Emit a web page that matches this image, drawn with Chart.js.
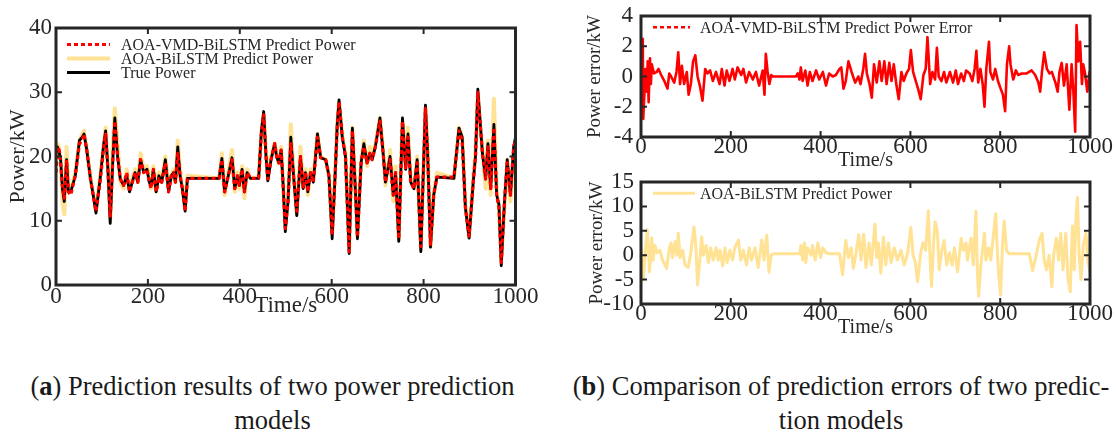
<!DOCTYPE html>
<html>
<head>
<meta charset="utf-8">
<script src="https://cdn.jsdelivr.net/npm/chart.js@4.4.1/dist/chart.umd.min.js"></script>
<style>
  body { margin: 0; background: #fff; width: 1116px; height: 434px; position: relative; overflow: hidden; }
  canvas { position: absolute; }
  .cap { position: absolute; font-family: "Liberation Serif", serif; font-size: 26.5px; line-height: 34px; color: #1a1a1a; text-align: center; white-space: nowrap; }
</style>
</head>
<body>
<canvas id="powerChart" width="560" height="320" style="left:0;top:0"></canvas>
<canvas id="errVmdChart" width="546" height="173" style="left:570px;top:0"></canvas>
<canvas id="errBilChart" width="546" height="167" style="left:570px;top:173px"></canvas>
<div class="cap" style="left:0;top:369px;width:545px">(<b>a</b>) Prediction results of two power prediction<br>models</div>
<div class="cap" style="left:568px;top:369px;width:546px">(<b>b</b>) Comparison of prediction errors of two predic-<br>tion models</div>
<script>
// time axis (s) for panel (a)
const timePower = [
	0, 3, 6, 10, 14, 18, 23, 27, 32, 42,
	51, 57, 61, 67, 75, 81, 87, 96, 104, 108,
	113, 118, 124, 128, 134, 140, 147, 154, 160, 166,
	172, 178, 184, 191, 198, 203, 207, 212, 218, 224,
	230, 238, 245, 251, 256, 260, 265, 270, 275, 281,
	286, 355, 361, 367, 375, 383, 389, 395, 399, 405,
	410, 416, 423, 441, 447, 452, 457, 461, 468, 476,
	480, 485, 490, 494, 499, 505, 511, 517, 524, 532,
	538, 543, 548, 554, 560, 569, 576, 587, 594, 601,
	608, 612, 616, 623, 630, 638, 645, 652, 656, 664,
	670, 677, 683, 688, 695, 705, 712, 717, 727, 734,
	739, 746, 754, 761, 766, 772, 779, 786, 794, 804,
	809, 815, 822, 829, 866, 877, 884, 891, 899, 908,
	913, 918, 928, 935, 940, 946, 953, 959, 964, 969,
	976, 982, 989, 996, 1000,
];
const truePower = [
	20.5, 21.5, 21, 19.5, 15, 13, 19.5, 14.5, 14.5, 17,
	22.5, 23, 23.5, 21, 16.5, 14, 11.2, 16.5, 22, 24,
	18, 9.6, 20, 26, 20, 16.5, 15.5, 17, 14.5, 16,
	17.5, 16, 19.5, 17.5, 18, 16, 15.5, 18, 14.5, 17,
	16, 19.5, 14.5, 17, 17.5, 16, 21.5, 17, 15, 11.5,
	16.6, 16.6, 19.7, 14.5, 17, 19.8, 15, 17, 15.5, 18,
	14.5, 17.5, 16.6, 16.6, 24, 27, 20, 16.2, 19.5, 22,
	20, 19, 21, 16, 8.3, 13, 23, 17, 10.8, 20,
	15, 17.5, 14.5, 17.5, 16, 23.5, 19.8, 19.5, 17, 7.2,
	18, 25, 28.8, 23, 20, 4.9, 24.4, 14, 7.2, 19,
	22, 19, 20.5, 19.5, 21.5, 26, 20.5, 16, 20, 14,
	17.5, 6.8, 26, 18, 23.5, 16, 15, 19.5, 5.2, 28,
	20, 5.9, 14, 16.8, 16.6, 24.4, 23, 12, 7.3, 16,
	20, 30.5, 20.5, 16.5, 22, 15, 25, 14, 12.5, 3,
	13, 19.5, 14, 21.5, 23,
];
const vmdPower = [
	17.5, 20.5, 21.5, 19, 15.5, 13.5, 19.5, 14.5, 14, 17,
	22, 22.5, 23.5, 21, 16.5, 14, 11.5, 16, 21.5, 23.5,
	18, 10.5, 20, 25.5, 20, 16.5, 15.5, 17.5, 14.5, 16,
	17.5, 16, 19.5, 17.5, 18, 16, 15, 18, 14.5, 16.5,
	16, 19, 14.5, 17, 17.5, 16, 20.5, 17, 15, 11.5,
	16.6, 16.6, 19.5, 14.5, 17, 19.5, 15, 17, 15.5, 18,
	14.5, 17.5, 16.6, 16.6, 23.5, 26.5, 20, 16.5, 19.5, 22,
	20, 19, 21, 16, 8.8, 13, 22, 17, 11.5, 20,
	15, 17.5, 14.5, 17.5, 16, 23, 19.8, 19.5, 17, 7.8,
	18, 24.5, 28.5, 23, 20, 5.2, 24, 14, 7.5, 19,
	21.5, 19, 20.5, 19.5, 21.5, 25.5, 20.5, 16, 19.5, 14,
	17.5, 7.2, 25.5, 18, 23, 16, 15, 19, 6, 27.5,
	20, 6.3, 14, 16.8, 16.8, 24, 22.5, 12, 7.6, 16,
	20, 30, 20.5, 16.5, 21.5, 15, 24.5, 14, 12, 3.5,
	13, 19, 14, 21.5, 22.5,
];
const bilstmPower = [
	19, 22, 21.5, 20, 13, 11, 21.5, 15.5, 14.5, 17.5,
	22.5, 23.5, 24, 21, 17, 14, 11.5, 17, 22, 24.5,
	18, 10, 22, 27.5, 22, 16, 15, 18, 15, 16.5,
	18, 16, 20.5, 18, 18.5, 17, 15, 18.5, 14.5, 17.5,
	16, 20, 15, 17, 18, 16, 22.5, 18, 15, 12,
	17, 16.6, 20.5, 14, 17.5, 21, 14.5, 17.5, 15, 18.5,
	13.5, 18, 16.6, 16.8, 24, 26.5, 21, 16.5, 20, 22,
	20.5, 19, 21.5, 16, 9, 13.5, 25, 17.5, 11, 21.5,
	15.5, 18, 14, 18, 16.5, 23.5, 20, 19.5, 17, 8,
	18.5, 25, 28.5, 23.5, 20.5, 5.5, 24.5, 14.5, 7.5, 19.5,
	22.5, 18.5, 21.5, 20, 22, 26, 21, 15.5, 21, 13,
	18.5, 7, 25.5, 19, 24.5, 16, 15, 20, 5.5, 27.5,
	21, 6, 14, 17.5, 16.6, 24.5, 23, 12.5, 7.5, 16.5,
	21, 29.5, 21, 15, 22.5, 14, 29, 15, 12, 4,
	12, 19.5, 13, 20.5, 22,
];

// panel (b), AOA-VMD-BiLSTM error
const timeErrVmd = [
	0, 2, 4, 5, 7, 10, 13, 15, 17, 20, 22, 24, 29, 35, 39, 45, 52, 59, 63, 67,
	74, 79, 83, 87, 91, 96, 102, 106, 111, 116, 121, 126, 131, 137, 143, 148, 154, 160, 167, 175,
	180, 186, 191, 197, 204, 209, 215, 223, 228, 234, 241, 249, 256, 263, 271, 275, 278, 282, 286, 290,
	293, 345, 349, 353, 356, 360, 366, 371, 376, 382, 390, 397, 405, 412, 419, 427, 434, 442, 446, 451,
	456, 462, 469, 477, 484, 489, 495, 499, 503, 509, 514, 519, 525, 531, 536, 542, 547, 553, 558, 563,
	569, 574, 580, 585, 591, 597, 601, 606, 612, 617, 623, 629, 634, 638, 644, 649, 655, 659, 663, 669,
	675, 680, 688, 695, 701, 706, 713, 719, 724, 732, 738, 743, 747, 751, 756, 761, 765, 769, 775, 778,
	784, 789, 795, 801, 806, 811, 815, 820, 823, 829, 835, 840, 848, 859, 870, 878, 885, 889, 893, 898,
	904, 910, 915, 923, 928, 932, 937, 942, 948, 954, 959, 963, 967, 970, 974, 978, 982, 985, 989, 994,
	999, 1000,
];
const errVmd = [
	0.2, 1.0, 2.5, -2.8, -1.5, 0.5, -1.0, 1.0, -1.7, 1.2, -0.5, 0.8, 0.2, 0.3, 0.5, 0.1, -0.3, -0.8, 0.2, 0,
	-0.4, 0.3, 1.6, -0.5, 0.7, -0.5, 0.3, -1.2, -0.5, 1.0, 1.4, 0, -0.6, -1.6, 0.5, 0.2, 0.4, -0.3, 0.3, -0.5,
	0.5, -0.6, 0.4, -0.3, 0.5, -0.2, 0.6, 0.1, 0.5, -0.4, 0.3, -0.2, 0.3, -0.6, 0.4, -1.2, 1.5, 0.3, -0.5, 0.1,
	0, 0, 0.2, -0.2, 0.6, -0.3, 0.4, -0.6, 0.3, -0.3, 0.4, -0.2, 0.3, -0.6, 0.2, 0, 0.1, 0.5, 0.6, -0.8,
	-0.3, 1.0, 0.3, -0.4, 0, -0.5, 0.5, 1.5, 0.2, -0.5, -1.4, 0.8, -0.4, 1.0, -0.3, 1.0, -0.5, 0.9, -0.3, 0.8,
	-0.6, -1.5, 0.3, -0.3, 0.2, 0.5, 1.75, 0.3, -0.3, -0.8, -1.5, 0.1, 0.5, 2.6, -0.5, 0.3, -0.2, 1.9, 0, -0.3,
	0.3, -0.4, 0.3, -0.4, 0.4, -0.5, 0.2, -0.3, 0.4, 0.2, -0.3, 0.5, 1.7, -0.4, 0.5, -0.5, -2.0, 0.5, 2.3, 0.3,
	-0.2, 0.5, -0.3, -0.8, -1.2, -2.3, 0.8, 2.0, 0.8, -0.2, 0.4, 0.1, 0.2, 0.2, 0.4, 0.1, -0.4, -1.0, 0.3, 1.6,
	0.5, 0.2, 0.3, -0.4, -1.0, 0.3, 0.9, -0.6, 0.8, -2.2, 0.8, -1.0, -3.65, 3.4, 1.0, 2.3, -0.5, 0.8, 0.2, -1.0,
	0.3, 0.2,
];

// panel (b), AOA-BiLSTM error
const timeErrBil = [
	0, 1, 5, 9, 14, 19, 24, 27, 31, 36, 42, 48, 57, 63, 67, 70, 76, 80, 83, 87,
	93, 98, 105, 110, 118, 122, 126, 131, 135, 139, 145, 150, 155, 161, 167, 172, 176, 182, 187, 192,
	198, 204, 209, 217, 222, 228, 235, 241, 246, 254, 261, 269, 274, 280, 285, 290, 295, 354, 356, 360,
	364, 367, 371, 379, 382, 388, 394, 400, 405, 412, 419, 442, 449, 453, 456, 462, 468, 473, 479, 485,
	490, 496, 501, 508, 513, 521, 525, 529, 534, 540, 545, 551, 557, 564, 571, 579, 586, 594, 601, 606,
	611, 616, 623, 628, 634, 640, 644, 647, 652, 655, 660, 664, 670, 675, 681, 687, 693, 698, 705, 713,
	718, 724, 727, 735, 740, 746, 749, 752, 757, 765, 768, 774, 779, 790, 794, 797, 801, 805, 809, 814,
	820, 865, 872, 879, 887, 893, 898, 903, 909, 915, 919, 925, 930, 935, 940, 946, 951, 956, 961, 965,
	969, 972, 976, 980, 985, 991, 995, 1000,
];
const errBil = [
	1, 1.1, -5.1, 0, 5.2, -3.4, 3.5, -1, 2, 0.5, 1, -1, -2.7, 1.5, 2.5, -0.5, 2.8, 0, 4.5, -0.5,
	1, -2, -2.5, 0, 5.8, 2, -6.1, -1, 3.8, 0, 2, -1.5, 1.5, -1, 1.5, -1, 1, -2.2, 1.5, -1.5,
	1, -1, 1.5, 3.1, -1, 1, -2, 1.5, -1, 1.5, -2.5, 3.1, -1, 4.1, -3.5, 0, 0.3, 0.3, 2, -1,
	2.5, -1.5, 1.5, 0, 2, -1, 2.5, -0.5, 1.5, 0.5, 0.3, 0.3, -4, 0, 3, -0.5, 1.5, -2.7, 0.5, 4.2,
	-1, 4.3, -2.5, 2.5, -2, 6.4, -0.5, 2.5, -3.7, 3.7, -2, 2.5, -1.5, 1.5, -1, 1, -2, 0.5, 5.7, 0,
	-1.5, -5.4, 0.5, 2.5, 1, 9.1, -1, -6.4, 3, 6.8, 5, -3, 1, 3, -2, 0.5, -2, 1.5, -3.4, 3.4,
	1, 2.5, -1, 3.5, -2, 9, -3, -8.4, -2, 4.5, -1, 1.5, -1, 8.5, 0, -4.5, -8.2, 2, 7, 1,
	0.3, 0.3, -3.2, -0.5, 3, 4.5, -1, -3, 0, -6.5, 0, 3.5, -1, 4.5, -3, 4.5, -5, -7.5, 6, -3,
	8, 11.8, 0, -5, 2, 4.5, -1, -3.5,
];

const RED = "#ff0000";
const YELLOW = "#ffe293";
const INK = "#262626";

Chart.defaults.font.family = '"Liberation Serif", "Times New Roman", serif';
Chart.defaults.color = INK;

function points(times, values) {
	return times.map((t, i) => ({ x: t, y: values[i] }));
}

// box with inward ticks on all four sides, plus a legend inside the plot
const framePlugin = {
	id: "frame",
	afterDatasetsDraw(chart, args, opts) {
		const { ctx, chartArea: a, scales } = chart;
		const x = scales.x;
		const y = scales.y;
		ctx.save();
		ctx.strokeStyle = INK;
		ctx.lineWidth = 2;
		ctx.beginPath();
		x.ticks.forEach((t) => {
			const px = x.getPixelForValue(t.value);
			ctx.moveTo(px, a.bottom);
			ctx.lineTo(px, a.bottom - 6);
			ctx.moveTo(px, a.top);
			ctx.lineTo(px, a.top + 6);
		});
		y.ticks.forEach((t) => {
			const py = y.getPixelForValue(t.value);
			ctx.moveTo(a.left, py);
			ctx.lineTo(a.left + 6, py);
			ctx.moveTo(a.right, py);
			ctx.lineTo(a.right - 6, py);
		});
		ctx.stroke();
		ctx.lineWidth = 3;
		ctx.strokeRect(a.left, a.top, a.right - a.left, a.bottom - a.top);

		// legend
		const lg = opts.legend;
		ctx.font = '16px "Liberation Serif", serif';
		ctx.textBaseline = "middle";
		ctx.fillStyle = INK;
		lg.items.forEach((item, i) => {
			const ly = a.top + lg.top + i * lg.step;
			ctx.beginPath();
			ctx.strokeStyle = item.color;
			ctx.lineWidth = item.width;
			ctx.setLineDash(item.dash || []);
			ctx.moveTo(a.left + lg.x0, ly);
			ctx.lineTo(a.left + lg.x1, ly);
			ctx.stroke();
			ctx.setLineDash([]);
			ctx.fillText(item.label, a.left + lg.tx, ly + 1);
		});
		ctx.restore();
	},
};

function makeChart(id, datasets, cfg) {
	return new Chart(document.getElementById(id), {
		type: "line",
		data: { datasets },
		options: {
			responsive: false,
			animation: false,
			devicePixelRatio: 1,
			layout: { padding: cfg.padding },
			elements: { point: { radius: 0 }, line: { tension: 0, borderJoinStyle: "round" } },
			plugins: {
				legend: { display: false },
				tooltip: { enabled: false },
				frame: { legend: cfg.legend },
			},
			scales: {
				x: {
					type: "linear",
					min: 0,
					max: 1000,
					grid: { display: false, drawTicks: false },
					border: { display: false },
					ticks: {
						stepSize: 200,
						padding: cfg.xPad,
						maxRotation: 0,
						autoSkip: false,
						font: { size: 23, lineHeight: 1 },
						callback: (v) => String(v),
					},
					title: { display: true, text: "Time/s", font: { size: cfg.xTitleSize }, padding: 0 },
					afterFit(s) {
						s.height = cfg.xHeight;
						s.paddingLeft = 0;
						s.paddingRight = 0;
					},
				},
				y: {
					min: cfg.yMin,
					max: cfg.yMax,
					grid: { display: false, drawTicks: false },
					border: { display: false },
					ticks: { stepSize: cfg.yStep, padding: cfg.yPad, autoSkip: false, font: { size: 23, lineHeight: 1 } },
					title: { display: true, text: cfg.yTitle, font: { size: cfg.yTitleSize }, padding: 0 },
					afterFit(s) {
						s.width = cfg.yWidth;
						s.paddingTop = 0;
						s.paddingBottom = 0;
					},
				},
			},
		},
		plugins: [framePlugin],
	});
}

// (a) prediction results
makeChart(
	"powerChart",
	[
		{ label: "AOA-VMD-BiLSTM Predict Power", data: points(timePower, vmdPower), borderColor: RED, borderWidth: 3.2, borderDash: [4, 3] },
		{ label: "True Power", data: points(timePower, truePower), borderColor: "#000", borderWidth: 2.8 },
		{ label: "AOA-BiLSTM Predict Power", data: points(timePower, bilstmPower), borderColor: YELLOW, borderWidth: 4 },
	],
	{
		padding: { left: 5, top: 28, right: 44.5, bottom: 0 },
		xHeight: 35, xPad: 0.5, xTitleSize: 23,
		yWidth: 51, yPad: 4, yTitleSize: 22,
		yMin: 0, yMax: 40, yStep: 10, yTitle: "Power/kW",
		legend: {
			top: 16.5, step: 14, x0: 11, x1: 54, tx: 65,
			items: [
				{ label: "AOA-VMD-BiLSTM Predict Power", color: RED, width: 3, dash: [4, 3] },
				{ label: "AOA-BiLSTM Predict Power", color: YELLOW, width: 4 },
				{ label: "True Power", color: "#000", width: 3 },
			],
		},
	}
);

// (b) top: AOA-VMD-BiLSTM error
makeChart(
	"errVmdChart",
	[{ label: "AOA-VMD-BiLSTM Predict Power Error", data: points(timeErrVmd, errVmd), borderColor: RED, borderWidth: 2.6 }],
	{
		padding: { left: 14, top: 16, right: 26, bottom: 0 },
		xHeight: 36, xPad: -1.5, xTitleSize: 20,
		yWidth: 57, yPad: 8, yTitleSize: 19,
		yMin: -4, yMax: 4, yStep: 2, yTitle: "Power error/kW",
		legend: {
			top: 11.3, step: 14, x0: 12, x1: 49, tx: 59,
			items: [{ label: "AOA-VMD-BiLSTM Predict Power Error", color: RED, width: 2.5, dash: [4, 3] }],
		},
	}
);

// (b) bottom: AOA-BiLSTM error
makeChart(
	"errBilChart",
	[{ label: "AOA-BiLSTM Predict Power", data: points(timeErrBil, errBil), borderColor: YELLOW, borderWidth: 3 }],
	{
		padding: { left: 16, top: 9, right: 26, bottom: 0 },
		xHeight: 36, xPad: -1.5, xTitleSize: 20,
		yWidth: 55, yPad: 7, yTitleSize: 19,
		yMin: -10, yMax: 15, yStep: 5, yTitle: "Power error/kW",
		legend: {
			top: 11.3, step: 14, x0: 12, x1: 54, tx: 59,
			items: [{ label: "AOA-BiLSTM Predict Power", color: YELLOW, width: 3 }],
		},
	}
);
</script>
</body>
</html>
